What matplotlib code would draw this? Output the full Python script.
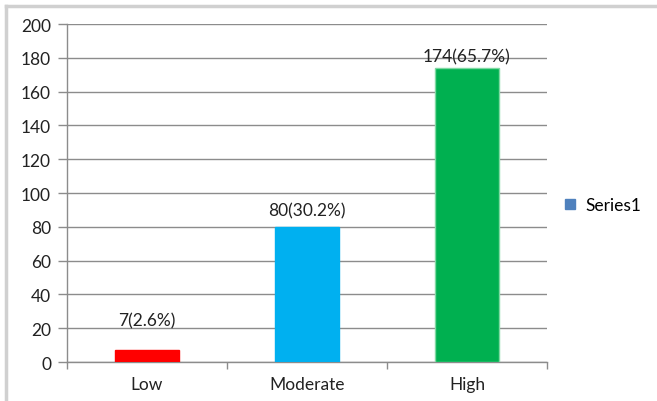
import matplotlib.pyplot as plt
from matplotlib.lines import Line2D
from matplotlib.patches import Patch

# 各カテゴリの人数と割合
categories = ["Low", "Moderate", "High"]
counts = [7, 80, 174]
percents = [2.6, 30.2, 65.7]
bar_colors = ["#FF0000", "#00B0F0", "#00B050"]
edge_colors = ["#FF0000", "#00B0F0", "#7FD9A2"]
label_gap = [22, 8, 4]  # ラベルと棒の間隔 (px)

plt.rcParams['font.family'] = ['Lato', 'DejaVu Sans']

fig = plt.figure(figsize=(6.57, 4.02), dpi=100)
ax = fig.add_axes([67 / 657, 1 - 363 / 402, 480 / 657, 338 / 402])

x = list(range(len(categories)))
ax.bar(x, counts, width=0.4, color=bar_colors, edgecolor=edge_colors,
       linewidth=1, zorder=3)

for xi, c, p, g in zip(x, counts, percents, label_gap):
    ax.annotate(f"{c}({p}%)", (xi, c), xytext=(0, g * 0.72),
                textcoords="offset points", ha="center", va="bottom",
                fontsize=12.5, color="#222222")

ax.set_xlim(-0.5, len(categories) - 0.5)
ax.set_ylim(0, 200)
ax.set_yticks(range(0, 201, 20))
ax.yaxis.grid(True, color="#8C8C8C", linewidth=1, zorder=0)

ax.set_xticks(x)
ax.set_xticklabels(categories)
ax.set_xticks([-0.5, 0.5, 1.5, 2.5], minor=True)
ax.tick_params(axis="x", which="major", length=0, pad=10, labelsize=12.5,
               labelcolor="#222222")
ax.tick_params(axis="x", which="minor", length=5, width=1, color="#8C8C8C")
ax.tick_params(axis="y", length=6.5, width=1, color="#8C8C8C", pad=5,
               labelsize=12.5, labelcolor="#222222")

for side in ["top", "right"]:
    ax.spines[side].set_visible(False)
for side in ["left", "bottom"]:
    ax.spines[side].set_color("#8C8C8C")
    ax.spines[side].set_linewidth(1)

handle = Patch(facecolor="#4F81BD", edgecolor="#4F81BD")
fig.legend([handle], ["Series1"], loc="center left",
           bbox_to_anchor=(565 / 657, 1 - 206 / 402), frameon=False,
           fontsize=12.5, handlelength=0.55, handleheight=0.55,
           handletextpad=0.6, borderpad=0, borderaxespad=0)

# 外枠 (左と上)
fig.add_artist(Line2D([6 / 657, 6 / 657], [0, 1 - 7 / 402],
                      color="#D0D0D0", linewidth=2.5))
fig.add_artist(Line2D([6 / 657, 1], [1 - 7 / 402, 1 - 7 / 402],
                      color="#D0D0D0", linewidth=2.5))

fig.savefig("out.png", dpi=100)
